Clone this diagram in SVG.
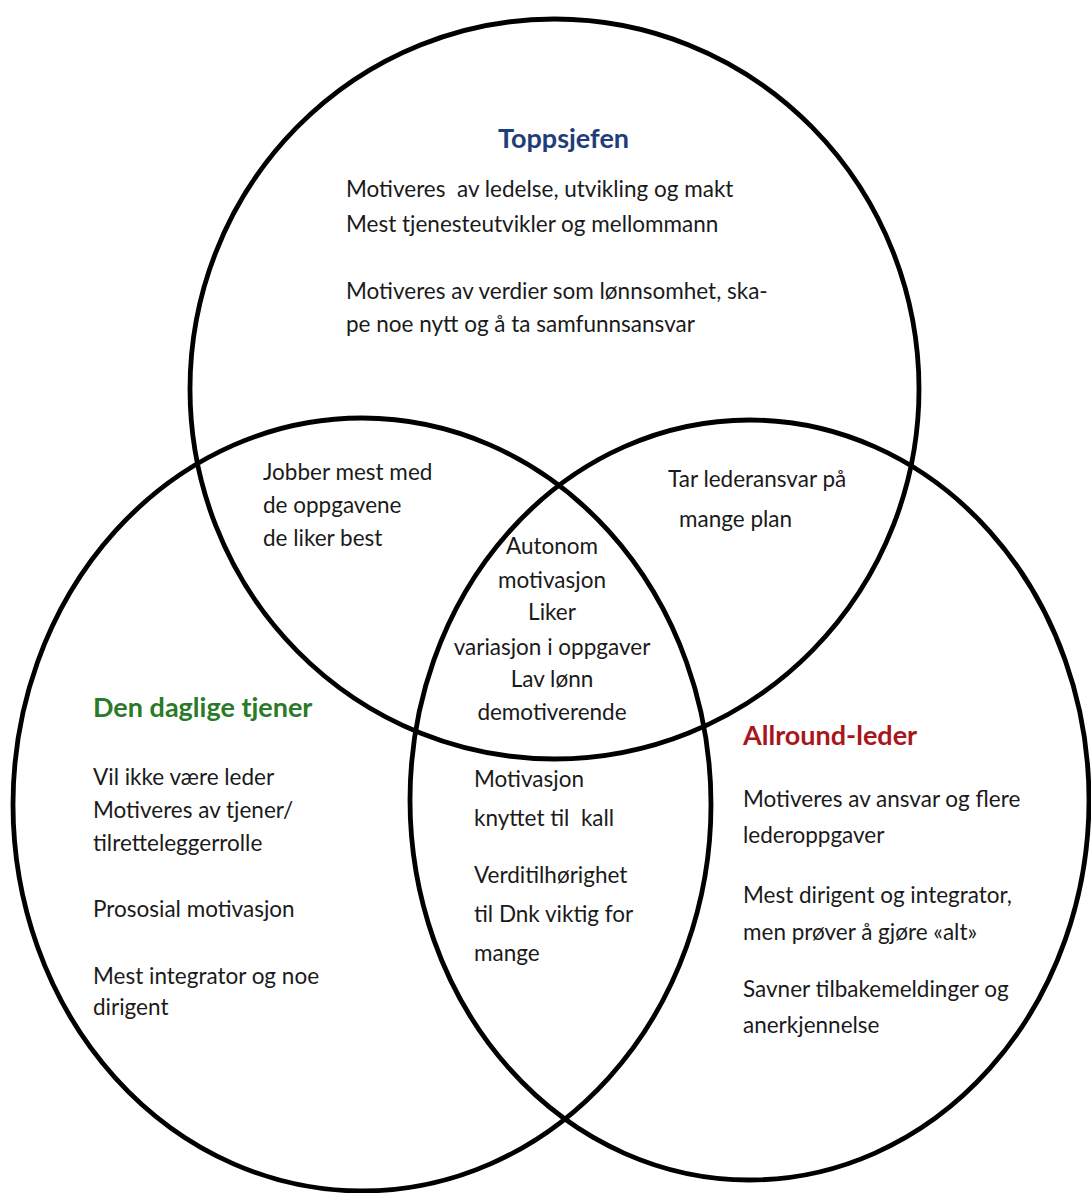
<svg xmlns="http://www.w3.org/2000/svg" width="1091" height="1193" viewBox="0 0 1091 1193">
<style>
.ring{fill:none;stroke:#000;stroke-width:4.8}
.t{font-family:Lato,"Open Sans","Liberation Sans",sans-serif;font-size:22.5px;fill:#1a1a1a}
.h{font-family:Lato,"Open Sans","Liberation Sans",sans-serif;font-size:27px;font-weight:bold}
.c{text-anchor:middle}
</style>
<rect width="1091" height="1193" fill="#fff"/>
<g id="toppsjefen">
<ellipse class="ring" cx="554.5" cy="389" rx="364.5" ry="370"/>
<text class="h" x="498" y="148" fill="#1f3d7a">Toppsjefen</text>
<text class="t" x="346" y="197" xml:space="preserve">Motiveres  av ledelse, utvikling og makt</text>
<text class="t" x="346" y="232">Mest tjenesteutvikler og mellommann</text>
<text class="t" x="346" y="299">Motiveres av verdier som lønnsomhet, ska-</text>
<text class="t" x="346" y="332">pe noe nytt og å ta samfunnsansvar</text>
</g>
<g id="den-daglige-tjener">
<ellipse class="ring" cx="362" cy="804.5" rx="349" ry="386.5"/>
<text class="h" x="93" y="717" fill="#2a7a27">Den daglige tjener</text>
<text class="t" x="93" y="785">Vil ikke være leder</text>
<text class="t" x="93" y="818">Motiveres av tjener/</text>
<text class="t" x="93" y="851">tilretteleggerrolle</text>
<text class="t" x="93" y="917">Prososial motivasjon</text>
<text class="t" x="93" y="984">Mest integrator og noe</text>
<text class="t" x="93" y="1015">dirigent</text>
</g>
<g id="allround-leder">
<ellipse class="ring" cx="749.5" cy="800" rx="339.5" ry="380"/>
<text class="h" x="743" y="745" fill="#a8161c">Allround-leder</text>
<text class="t" x="743" y="807">Motiveres av ansvar og flere</text>
<text class="t" x="743" y="843">lederoppgaver</text>
<text class="t" x="743" y="903">Mest dirigent og integrator,</text>
<text class="t" x="743" y="940">men prøver å gjøre «alt»</text>
<text class="t" x="743" y="997">Savner tilbakemeldinger og</text>
<text class="t" x="743" y="1033">anerkjennelse</text>
</g>
<g id="overlap-topp-tjener">
<text class="t" x="263" y="480">Jobber mest med</text>
<text class="t" x="263" y="513">de oppgavene</text>
<text class="t" x="263" y="546">de liker best</text>
</g>
<g id="overlap-topp-allround">
<text class="t" x="668" y="487">Tar lederansvar på</text>
<text class="t" x="679" y="527">mange plan</text>
</g>
<g id="overlap-alle">
<text class="t c" x="552" y="554">Autonom</text>
<text class="t c" x="552" y="588">motivasjon</text>
<text class="t c" x="552" y="620">Liker</text>
<text class="t c" x="552" y="655">variasjon i oppgaver</text>
<text class="t c" x="552" y="687">Lav lønn</text>
<text class="t c" x="552" y="720">demotiverende</text>
</g>
<g id="overlap-tjener-allround">
<text class="t" x="474" y="787">Motivasjon</text>
<text class="t" x="474" y="826" xml:space="preserve">knyttet til  kall</text>
<text class="t" x="474" y="883">Verditilhørighet</text>
<text class="t" x="474" y="922">til Dnk viktig for</text>
<text class="t" x="474" y="961">mange</text>
</g>
</svg>
